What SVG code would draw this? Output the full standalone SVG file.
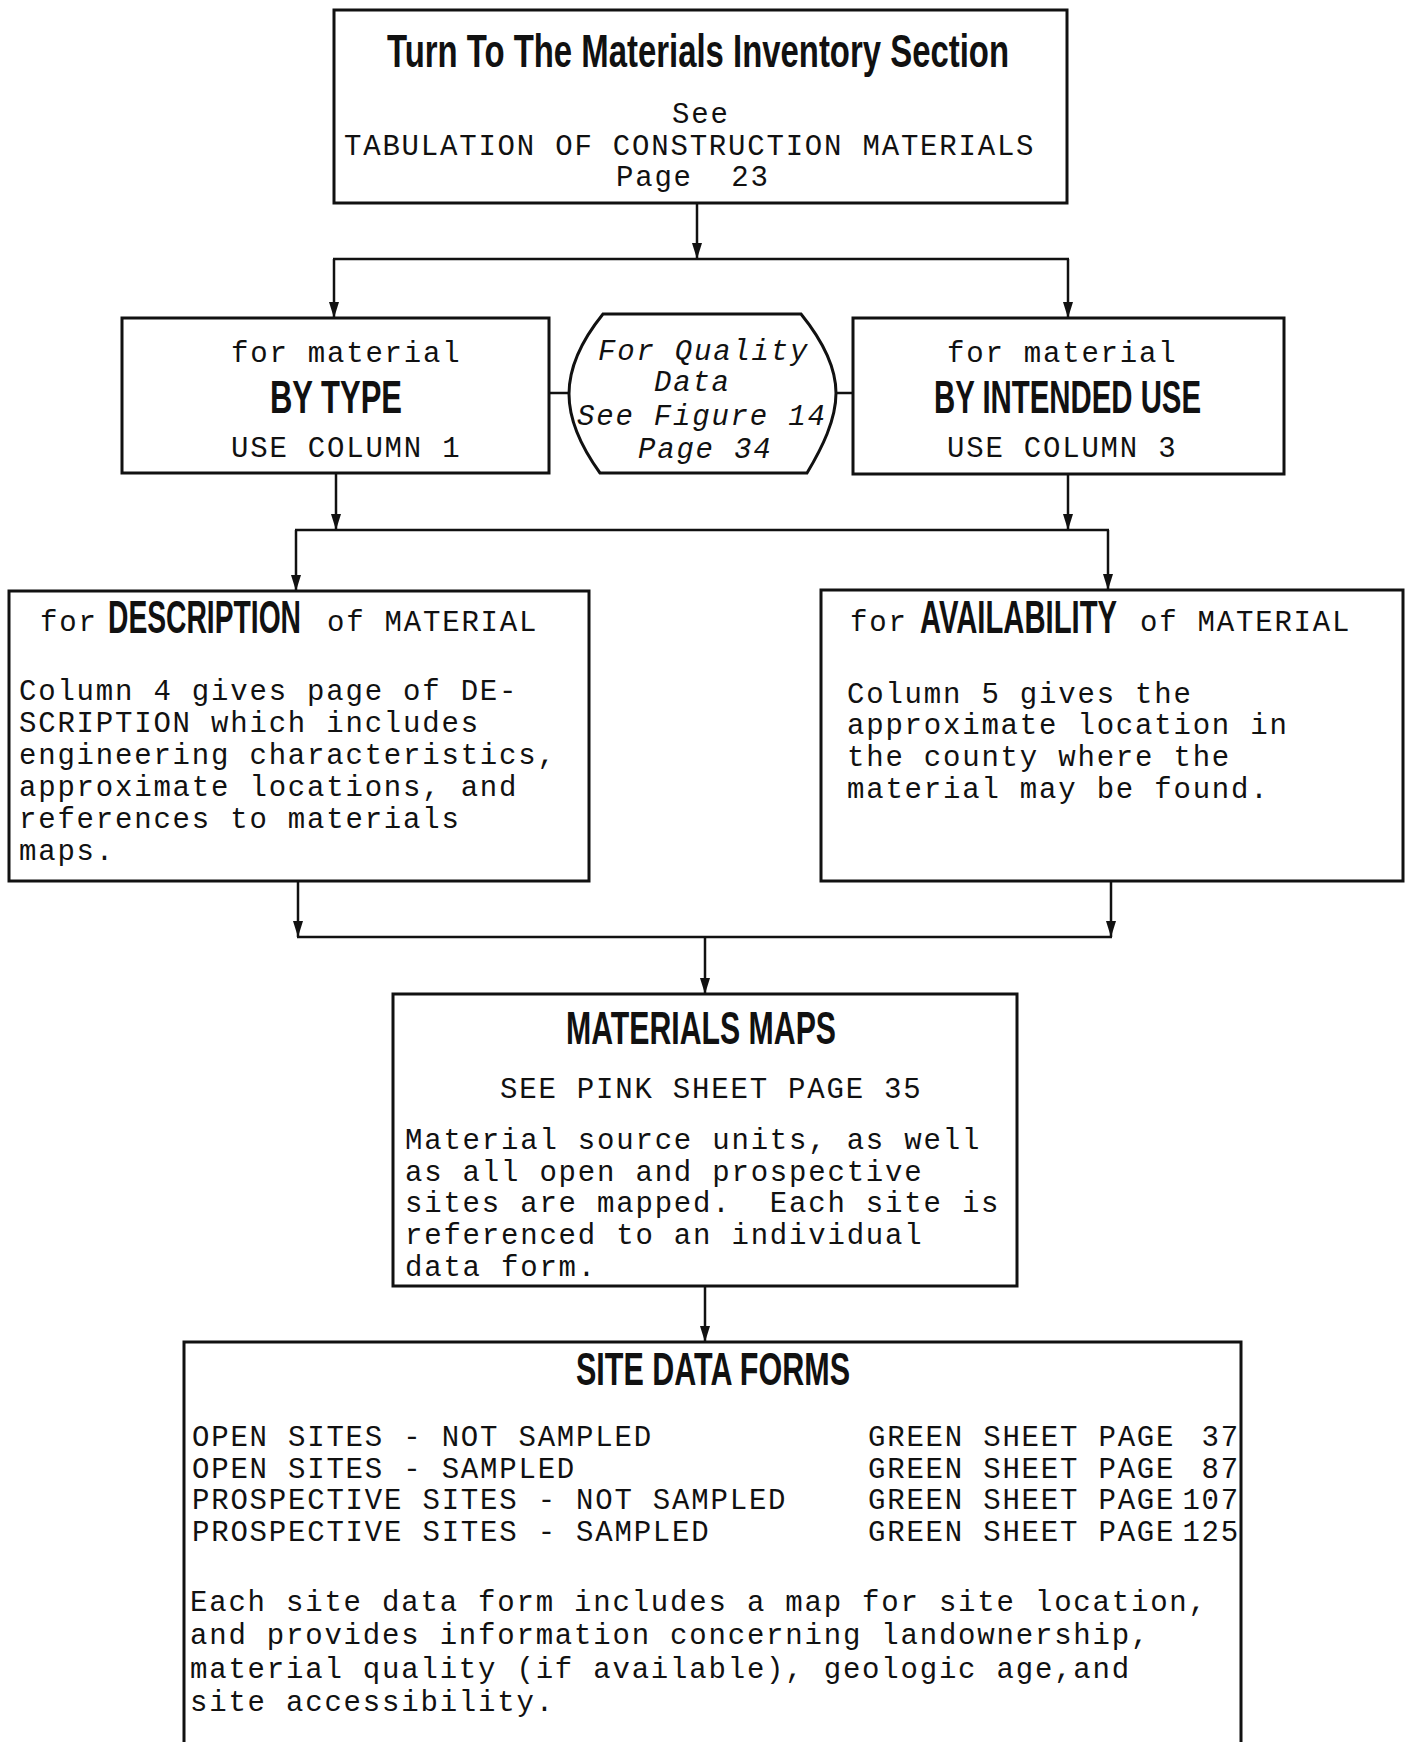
<svg xmlns="http://www.w3.org/2000/svg" width="1410" height="1742" viewBox="0 0 1410 1742">
<style>
.box{fill:none;stroke:#111;stroke-width:3}
.ln{fill:none;stroke:#111;stroke-width:2.5}
.mono{font-family:"Liberation Mono","Courier New",monospace;font-size:29px;letter-spacing:1.8px;fill:#111;white-space:pre}
.it{font-style:italic}
.hd{font-family:"Liberation Sans",Arial,sans-serif;font-weight:bold;font-size:46px;fill:#111;letter-spacing:0}
</style>
<defs>
<marker id="arr" viewBox="0 0 16 10" markerWidth="16" markerHeight="10" refX="16" refY="5" orient="auto" markerUnits="userSpaceOnUse">
<path d="M0,0 L16,5 L0,10 z" fill="#111"/>
</marker>
</defs>
<rect width="1410" height="1742" fill="#fff"/>

<g id="connectors">
<line class="ln" x1="697" y1="203" x2="697" y2="259" marker-end="url(#arr)"/>
<line class="ln" x1="333" y1="259" x2="1069" y2="259"/>
<line class="ln" x1="334" y1="259" x2="334" y2="318" marker-end="url(#arr)"/>
<line class="ln" x1="1068" y1="259" x2="1068" y2="318" marker-end="url(#arr)"/>
<line class="ln" x1="549" y1="393" x2="570" y2="393"/>
<line class="ln" x1="835" y1="393" x2="853" y2="393"/>
<line class="ln" x1="336" y1="473" x2="336" y2="530" marker-end="url(#arr)"/>
<line class="ln" x1="1068" y1="474" x2="1068" y2="530" marker-end="url(#arr)"/>
<line class="ln" x1="295" y1="530" x2="1109" y2="530"/>
<line class="ln" x1="296" y1="530" x2="296" y2="591" marker-end="url(#arr)"/>
<line class="ln" x1="1108" y1="530" x2="1108" y2="590" marker-end="url(#arr)"/>
<line class="ln" x1="298" y1="881" x2="298" y2="937" marker-end="url(#arr)"/>
<line class="ln" x1="1111" y1="881" x2="1111" y2="937" marker-end="url(#arr)"/>
<line class="ln" x1="297" y1="937" x2="1112" y2="937"/>
<line class="ln" x1="705" y1="937" x2="705" y2="994" marker-end="url(#arr)"/>
<line class="ln" x1="705" y1="1286" x2="705" y2="1342" marker-end="url(#arr)"/>
</g>

<g id="start">
<rect class="box" x="334" y="10" width="733" height="193"/>
<text class="hd" x="387" y="67" textLength="622" lengthAdjust="spacingAndGlyphs" font-size="44">Turn To The Materials Inventory Section</text>
<text class="mono" x="672" y="123">See</text>
<text class="mono" x="344" y="155">TABULATION OF CONSTRUCTION MATERIALS</text>
<text class="mono" x="616" y="186">Page  23</text>
</g>

<g id="by-type">
<rect class="box" x="122" y="318" width="427" height="155"/>
<text class="mono" x="231" y="362">for material</text>
<text class="hd" x="270" y="413" textLength="132" lengthAdjust="spacingAndGlyphs">BY TYPE</text>
<text class="mono" x="231" y="457">USE COLUMN 1</text>
</g>

<g id="quality">
<path class="box" d="M603,314 L801,314 C822,340 836,366 836,393 C836,420 822,448 807,473 L600,473 C582,448 569,420 569,394 C569,368 582,340 603,314 Z"/>
<text class="mono it" x="598" y="360">For Quality</text>
<text class="mono it" x="654" y="391">Data</text>
<text class="mono it" x="577" y="425">See Figure 14</text>
<text class="mono it" x="638" y="458">Page 34</text>
</g>

<g id="by-use">
<rect class="box" x="853" y="318" width="431" height="156"/>
<text class="mono" x="947" y="362">for material</text>
<text class="hd" x="934" y="413" textLength="267" lengthAdjust="spacingAndGlyphs">BY INTENDED USE</text>
<text class="mono" x="947" y="457">USE COLUMN 3</text>
</g>

<g id="description">
<rect class="box" x="9" y="591" width="580" height="290"/>
<text class="mono" y="631"><tspan x="40">for</tspan><tspan class="hd" x="108" y="633" textLength="193" lengthAdjust="spacingAndGlyphs">DESCRIPTION</tspan><tspan x="327" y="631">of MATERIAL</tspan></text>
<text class="mono" x="19" y="700">Column 4 gives page of DE-</text>
<text class="mono" x="19" y="732">SCRIPTION which includes</text>
<text class="mono" x="19" y="764">engineering characteristics,</text>
<text class="mono" x="19" y="796">approximate locations, and</text>
<text class="mono" x="19" y="828">references to materials</text>
<text class="mono" x="19" y="860">maps.</text>
</g>

<g id="availability">
<rect class="box" x="821" y="590" width="582" height="291"/>
<text class="mono" y="631"><tspan x="850">for</tspan><tspan class="hd" x="920" y="633" textLength="197" lengthAdjust="spacingAndGlyphs">AVAILABILITY</tspan><tspan x="1140" y="631">of MATERIAL</tspan></text>
<text class="mono" x="847" y="703">Column 5 gives the</text>
<text class="mono" x="847" y="734">approximate location in</text>
<text class="mono" x="847" y="766">the county where the</text>
<text class="mono" x="847" y="798">material may be found.</text>
</g>

<g id="maps">
<rect class="box" x="393" y="994" width="624" height="292"/>
<text class="hd" x="566" y="1044" textLength="270" lengthAdjust="spacingAndGlyphs">MATERIALS MAPS</text>
<text class="mono" x="500" y="1098">SEE PINK SHEET PAGE 35</text>
<text class="mono" x="405" y="1149">Material source units, as well</text>
<text class="mono" x="405" y="1181">as all open and prospective</text>
<text class="mono" x="405" y="1212">sites are mapped.  Each site is</text>
<text class="mono" x="405" y="1244">referenced to an individual</text>
<text class="mono" x="405" y="1276">data form.</text>
</g>

<g id="site-forms">
<path class="box" d="M184,1760 L184,1342 L1241,1342 L1241,1760"/>
<text class="hd" x="576" y="1385" textLength="274" lengthAdjust="spacingAndGlyphs">SITE DATA FORMS</text>
<text class="mono" x="192" y="1446">OPEN SITES - NOT SAMPLED</text>
<text class="mono" x="192" y="1478">OPEN SITES - SAMPLED</text>
<text class="mono" x="192" y="1509">PROSPECTIVE SITES - NOT SAMPLED</text>
<text class="mono" x="192" y="1541">PROSPECTIVE SITES - SAMPLED</text>
<text class="mono" x="868" y="1446">GREEN SHEET PAGE</text>
<text class="mono" x="868" y="1478">GREEN SHEET PAGE</text>
<text class="mono" x="868" y="1509">GREEN SHEET PAGE</text>
<text class="mono" x="868" y="1541">GREEN SHEET PAGE</text>
<text class="mono" x="1240" y="1446" text-anchor="end">37</text>
<text class="mono" x="1240" y="1478" text-anchor="end">87</text>
<text class="mono" x="1240" y="1509" text-anchor="end">107</text>
<text class="mono" x="1240" y="1541" text-anchor="end">125</text>
<text class="mono" x="190" y="1611">Each site data form includes a map for site location,</text>
<text class="mono" x="190" y="1644">and provides information concerning landownership,</text>
<text class="mono" x="190" y="1678">material quality (if available), geologic age,and</text>
<text class="mono" x="190" y="1711">site accessibility.</text>
</g>
</svg>
